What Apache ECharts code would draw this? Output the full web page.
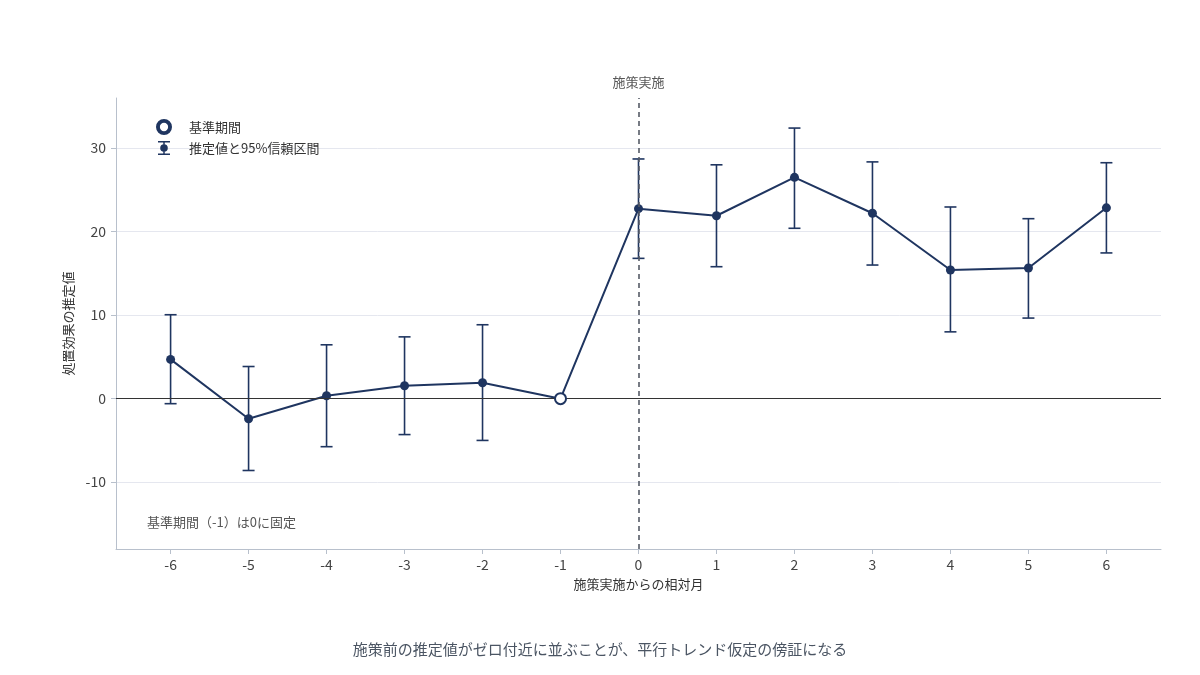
<!DOCTYPE html>
<html>
<head>
<meta charset="utf-8">
<script src="https://cdn.jsdelivr.net/npm/echarts@6/dist/echarts.min.js"></script>
<style>
  html, body { margin: 0; padding: 0; background: #fff; }
  #main { width: 1200px; height: 675px; }
</style>
</head>
<body>
<div id="main"></div>
<script>
// 相対月と推定値（-1 は基準期間）
var months = [-6, -5, -4, -3, -2, -1, 0, 1, 2, 3, 4, 5, 6];
var estimates = [4.7, -2.4, 0.35, 1.55, 1.9, 0, 22.75, 21.9, 26.5, 22.2, 15.4, 15.65, 22.85];
var ciLower = [-0.6, -8.6, -5.75, -4.3, -5.0, null, 16.8, 15.8, 20.4, 16.0, 8.0, 9.65, 17.45];
var ciUpper = [10.05, 3.85, 6.45, 7.4, 8.85, null, 28.7, 28.0, 32.4, 28.35, 22.95, 21.55, 28.25];
var yTicks = [-10, 0, 10, 20, 30];
var baseMonth = -1;

var NAVY = '#1f3560';
var FONT = '"Noto Sans CJK JP", "Noto Sans", sans-serif';

var lineData = [];
var barData = [];
for (var i = 0; i < months.length; i++) {
    if (months[i] == baseMonth) {
        lineData.push({value: [months[i], estimates[i]], symbolSize: 0});
    } else {
        lineData.push([months[i], estimates[i]]);
        barData.push([months[i], ciLower[i], ciUpper[i]]);
    }
}

// エラーバー描画
function renderErrorBar(params, api) {
    var x = api.value(0);
    var lo = api.coord([x, api.value(1)]);
    var hi = api.coord([x, api.value(2)]);
    var w = 6;
    var style = {stroke: NAVY, lineWidth: 1.6, fill: null};
    return {
        type: 'group',
        children: [
            {type: 'line', shape: {x1: lo[0], y1: lo[1], x2: hi[0], y2: hi[1]}, style: style},
            {type: 'line', shape: {x1: lo[0] - w, y1: lo[1], x2: lo[0] + w, y2: lo[1]}, style: style},
            {type: 'line', shape: {x1: hi[0] - w, y1: hi[1], x2: hi[0] + w, y2: hi[1]}, style: style}
        ]
    };
}

// 凡例アイコン
var ringIcon = 'path://M1,7a6,6 0 1 1 12,0a6,6 0 1 1 -12,0z M2.6,7a4.4,4.4 0 1 0 8.8,0a4.4,4.4 0 1 0 -8.8,0z';
var errIcon = 'path://M1,0h12v1.5h-12z M6.25,0h1.5v14h-1.5z M1,12.5h12v1.5h-12z M3.2,7a3.8,3.8 0 1 1 7.6,0a3.8,3.8 0 1 1 -7.6,0z';

var chart = echarts.init(document.getElementById('main'), null, {renderer: 'canvas'});
var option = {
    backgroundColor: '#ffffff',
    textStyle: {fontFamily: FONT},
    animation: false,
    title: {
        text: '施策前の推定値がゼロ付近に並ぶことが、平行トレンド仮定の傍証になる',
        left: 'center',
        top: 637,
        textStyle: {fontFamily: FONT, fontSize: 15, fontWeight: 'normal', color: '#4b5563'}
    },
    legend: {
        orient: 'vertical',
        left: 151,
        top: 114,
        itemGap: 6,
        itemWidth: 24,
        itemHeight: 14,
        textStyle: {fontFamily: FONT, fontSize: 13, color: '#333', padding: [0, 0, 0, 8]},
        data: [
            {name: '基準期間', icon: ringIcon, itemStyle: {color: NAVY}},
            {name: '推定値と95%信頼区間', icon: errIcon, itemStyle: {color: NAVY}}
        ]
    },
    grid: {left: 116, right: 39, top: 98, bottom: 126},
    xAxis: {
        type: 'value',
        min: -6.7,
        max: 6.7,
        name: '施策実施からの相対月',
        nameLocation: 'middle',
        nameGap: 29,
        nameTextStyle: {fontSize: 13, color: '#333'},
        axisLine: {show: true, onZero: false, lineStyle: {color: '#b8c0cc'}},
        axisTick: {show: true, customValues: months, length: 5, lineStyle: {color: '#b8c0cc'}},
        axisLabel: {customValues: months, fontSize: 14, color: '#444', margin: 9},
        splitLine: {show: false}
    },
    yAxis: {
        type: 'value',
        min: -18,
        max: 36,
        name: '処置効果の推定値',
        nameLocation: 'middle',
        nameGap: 40,
        nameTextStyle: {fontSize: 13, color: '#333'},
        axisLine: {show: true, onZero: false, lineStyle: {color: '#b8c0cc'}},
        axisTick: {show: true, customValues: yTicks, length: 5, lineStyle: {color: '#b8c0cc'}},
        axisLabel: {customValues: yTicks, fontSize: 14, color: '#444', margin: 10},
        splitLine: {show: true, lineStyle: {color: '#e5e7ef'}}
    },
    series: [
        {
            name: '推定値と95%信頼区間',
            type: 'line',
            data: lineData,
            symbol: 'circle',
            symbolSize: 9,
            itemStyle: {color: NAVY},
            lineStyle: {color: NAVY, width: 2},
            z: 3,
            markLine: {
                silent: true,
                symbol: 'none',
                data: [
                    {yAxis: 0, lineStyle: {color: '#333', width: 1.2, type: 'solid'}, label: {show: false}},
                    {xAxis: 0, lineStyle: {color: '#555b66', width: 1.6, type: [5, 4]},
                     label: {show: true, position: 'end', formatter: '施策実施', distance: 9,
                             fontFamily: FONT, fontSize: 13, color: '#555'}}
                ]
            }
        },
        {
            name: 'errbar',
            type: 'custom',
            renderItem: renderErrorBar,
            data: barData,
            encode: {x: 0, y: [1, 2]},
            z: 2
        },
        {
            name: '基準期間',
            type: 'scatter',
            data: [[baseMonth, 0]],
            symbol: 'circle',
            symbolSize: 11,
            itemStyle: {color: '#fff', borderColor: NAVY, borderWidth: 2, opacity: 1},
            z: 5
        }
    ],
    graphic: [
        {
            type: 'text',
            left: 147,
            top: 516,
            style: {text: '基準期間（-1）は0に固定', font: '13px ' + FONT, fill: '#555'}
        }
    ]
};
chart.setOption(option);
</script>
</body>
</html>
